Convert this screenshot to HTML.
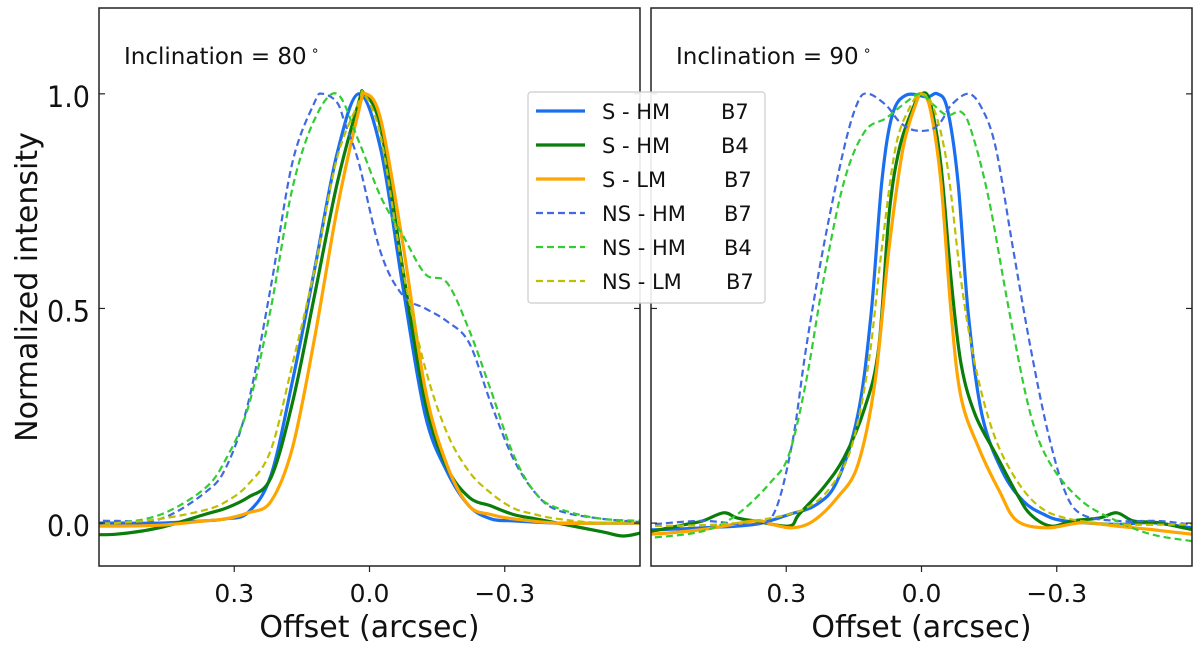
<!DOCTYPE html>
<html><head><meta charset="utf-8">
<style>
html,body{margin:0;padding:0;background:#fff;}
svg{display:block;font-family:"DejaVu Sans","Liberation Sans",sans-serif;}
</style></head>
<body>
<svg id="chart" width="1200" height="655" viewBox="0 0 1200 655"></svg>
<script>
// ---- data: left panel (inclination 80) ----
const L_S_HM_B7_x = [0.64,0.562,0.463,0.366,0.318,0.269,0.219,0.171,0.122,0.072,0.024,-0.025,-0.074,-0.124,-0.172,-0.221,-0.269,-0.319,-0.417,-0.515,-0.64];
const L_S_HM_B7_y = [0,0,0,0.005,0.01,0.025,0.11,0.33,0.59,0.86,1.0,0.87,0.55,0.25,0.12,0.04,0.01,0.005,0,0,0];
const L_S_HM_B4_x = [0.64,0.562,0.463,0.366,0.318,0.269,0.219,0.171,0.122,0.072,0.024,0.012,-0.025,-0.074,-0.124,-0.172,-0.221,-0.269,-0.319,-0.368,-0.417,-0.515,-0.563,-0.612,-0.64];
const L_S_HM_B4_y = [-0.026,-0.026,-0.01,0.02,0.035,0.06,0.105,0.28,0.53,0.79,0.98,1.0,0.92,0.59,0.28,0.13,0.06,0.04,0.02,0.01,0,-0.02,-0.03,-0.02,-0.01];
const L_S_LM_B7_x = [0.64,0.562,0.463,0.366,0.318,0.269,0.219,0.171,0.122,0.072,0.024,0.009,-0.025,-0.074,-0.124,-0.172,-0.221,-0.269,-0.319,-0.417,-0.515,-0.64];
const L_S_LM_B7_y = [-0.007,-0.007,-0.005,0.005,0.01,0.024,0.05,0.175,0.43,0.73,0.96,1.0,0.94,0.65,0.31,0.135,0.04,0.02,0.01,0,0,0];
const L_NS_HM_B7_x = [0.64,0.562,0.463,0.366,0.318,0.269,0.219,0.171,0.122,0.104,0.072,0.054,0.024,-0.025,-0.074,-0.124,-0.172,-0.221,-0.269,-0.319,-0.368,-0.417,-0.515,-0.64];
const L_NS_HM_B7_y = [0.008,0.005,0.01,0.07,0.13,0.28,0.55,0.84,0.98,1.0,0.98,0.93,0.84,0.63,0.53,0.5,0.47,0.42,0.28,0.15,0.07,0.03,0.01,0];
const L_NS_HM_B4_x = [0.64,0.562,0.463,0.366,0.318,0.269,0.219,0.171,0.122,0.072,0.024,-0.025,-0.074,-0.124,-0.172,-0.221,-0.269,-0.319,-0.368,-0.417,-0.515,-0.64];
const L_NS_HM_B4_y = [0,0,0.02,0.08,0.15,0.27,0.5,0.78,0.94,1.0,0.89,0.76,0.67,0.58,0.56,0.45,0.31,0.16,0.07,0.035,0.01,0.005];
const L_NS_LM_B7_x = [0.64,0.562,0.463,0.366,0.318,0.269,0.219,0.171,0.122,0.072,0.024,0.012,-0.025,-0.074,-0.124,-0.172,-0.221,-0.269,-0.319,-0.368,-0.417,-0.515,-0.64];
const L_NS_LM_B7_y = [0,0,0.01,0.03,0.05,0.09,0.17,0.37,0.59,0.85,0.98,1.0,0.9,0.59,0.36,0.21,0.12,0.07,0.035,0.02,0.01,0,0];
// ---- data: right panel (inclination 90) ----
const R_S_HM_B7_x = [0.64,0.6,0.485,0.370,0.294,0.233,0.187,0.141,0.112,0.088,0.065,0.034,-0.013,-0.035,-0.057,-0.081,-0.104,-0.134,-0.179,-0.226,-0.272,-0.318,-0.433,-0.509,-0.6,-0.64];
const R_S_HM_B7_y = [-0.016,-0.016,-0.011,-0.003,0.02,0.043,0.098,0.253,0.485,0.795,0.95,0.997,0.993,1.0,0.966,0.795,0.485,0.253,0.121,0.051,0.02,0.005,-0.003,0.001,-0.011,-0.012];
const R_S_HM_B4_x = [0.64,0.6,0.523,0.485,0.439,0.409,0.370,0.294,0.272,0.218,0.172,0.126,0.095,0.072,0.049,0.019,0.0,-0.019,-0.043,-0.066,-0.088,-0.119,-0.165,-0.212,-0.242,-0.287,-0.334,-0.395,-0.433,-0.470,-0.524,-0.6,-0.64];
const R_S_HM_B4_y = [-0.019,-0.019,-0.003,0.005,0.024,0.012,0.005,-0.007,0.02,0.082,0.152,0.268,0.408,0.718,0.873,0.966,1.0,0.981,0.834,0.563,0.369,0.253,0.16,0.067,0.02,-0.007,0.005,0.012,0.024,0.005,0.001,-0.015,-0.02];
const R_S_LM_B7_x = [0.64,0.6,0.485,0.370,0.332,0.286,0.240,0.187,0.141,0.103,0.072,0.041,0.011,0.0,-0.019,-0.043,-0.066,-0.088,-0.127,-0.173,-0.212,-0.28,-0.356,-0.433,-0.509,-0.6,-0.64];
const R_S_LM_B7_y = [-0.026,-0.026,-0.015,0.005,-0.003,-0.011,0.005,0.059,0.136,0.33,0.64,0.873,0.981,1.0,0.966,0.795,0.485,0.291,0.175,0.074,0.005,-0.011,0.001,-0.007,-0.015,-0.026,-0.03];
const R_NS_HM_B7_x = [0.64,0.6,0.485,0.370,0.325,0.286,0.256,0.218,0.172,0.141,0.118,0.079,0.049,0.019,-0.019,-0.043,-0.066,-0.104,-0.134,-0.165,-0.203,-0.242,-0.28,-0.318,-0.356,-0.433,-0.524,-0.6,-0.64];
const R_NS_HM_B7_y = [-0.003,-0.003,0.005,-0.003,0.028,0.191,0.408,0.64,0.873,0.981,1.0,0.974,0.935,0.916,0.916,0.935,0.974,1.0,0.966,0.873,0.64,0.408,0.214,0.074,0.02,0.005,0.005,-0.003,-0.003];
const R_NS_HM_B4_x = [0.64,0.6,0.485,0.409,0.332,0.294,0.256,0.218,0.172,0.126,0.079,0.034,0.003,-0.027,-0.057,-0.088,-0.111,-0.149,-0.196,-0.242,-0.287,-0.356,-0.433,-0.509,-0.6,-0.64];
const R_NS_HM_B4_y = [-0.034,-0.034,-0.019,0.02,0.098,0.16,0.33,0.563,0.795,0.912,0.943,0.981,1.0,0.974,0.95,0.958,0.912,0.756,0.485,0.253,0.136,0.051,0.005,-0.026,-0.042,-0.045];
const R_NS_LM_B7_x = [0.64,0.6,0.447,0.332,0.256,0.203,0.156,0.118,0.088,0.058,0.027,0.0,-0.027,-0.057,-0.088,-0.119,-0.158,-0.203,-0.256,-0.318,-0.433,-0.6,-0.64];
const R_NS_LM_B7_y = [-0.007,-0.007,-0.003,0.012,0.035,0.082,0.175,0.369,0.64,0.873,0.966,1.0,0.966,0.834,0.563,0.369,0.214,0.113,0.043,0.012,-0.003,-0.003,-0.003];
const xTickValues = [0.3, 0.0, -0.3];
const xTickLabels = ["0.3", "0.0", "\u22120.3"];
const yTickValues = [0.0, 0.5, 1.0];
const yTickLabels = ["0.0", "0.5", "1.0"];
const legendLabels = ["S - HM", "S - HM", "S - LM", "NS - HM", "NS - HM", "NS - LM"];
const legendBands = ["B7", "B4", "B7", "B7", "B4", "B7"];

const NS = "http://www.w3.org/2000/svg";
const svg = document.getElementById("chart");
const XMIN = 0.6, XMAX = -0.6, YMIN = -0.1, YMAX = 1.2;
const TOP = 8, BOT = 566;
const panels = [
  {left: 99, right: 640, title: "Inclination = 80", name: "left-panel", series: [
    [L_S_HM_B7_x, L_S_HM_B7_y], [L_S_HM_B4_x, L_S_HM_B4_y], [L_S_LM_B7_x, L_S_LM_B7_y],
    [L_NS_HM_B7_x, L_NS_HM_B7_y], [L_NS_HM_B4_x, L_NS_HM_B4_y], [L_NS_LM_B7_x, L_NS_LM_B7_y]]},
  {left: 651, right: 1192, title: "Inclination = 90", name: "right-panel", series: [
    [R_S_HM_B7_x, R_S_HM_B7_y], [R_S_HM_B4_x, R_S_HM_B4_y], [R_S_LM_B7_x, R_S_LM_B7_y],
    [R_NS_HM_B7_x, R_NS_HM_B7_y], [R_NS_HM_B4_x, R_NS_HM_B4_y], [R_NS_LM_B7_x, R_NS_LM_B7_y]]}
];
const styles = [
  {c: "#1a6ff0", w: 3.2, d: null, n: "s-hm-b7"},
  {c: "#0b7d0b", w: 3.2, d: null, n: "s-hm-b4"},
  {c: "#ffa500", w: 3.2, d: null, n: "s-lm-b7"},
  {c: "#4169e1", w: 2.2, d: "7,4", n: "ns-hm-b7"},
  {c: "#32cd32", w: 2.2, d: "7,4", n: "ns-hm-b4"},
  {c: "#bfbf00", w: 2.2, d: "7,4", n: "ns-lm-b7"}
];
function el(tag, attrs, parent) {
  const e = document.createElementNS(NS, tag);
  for (const k in attrs) e.setAttribute(k, attrs[k]);
  (parent || svg).appendChild(e);
  return e;
}
function yScale(v) { return BOT - (v - YMIN) / (YMAX - YMIN) * (BOT - TOP); }
function smoothPath(pts) {
  let d = "M" + pts[0][0].toFixed(1) + "," + pts[0][1].toFixed(1);
  for (let i = 0; i < pts.length - 1; i++) {
    const p0 = pts[Math.max(0, i - 1)], p1 = pts[i], p2 = pts[i + 1], p3 = pts[Math.min(pts.length - 1, i + 2)];
    const c1x = p1[0] + (p2[0] - p0[0]) / 6, c1y = p1[1] + (p2[1] - p0[1]) / 6;
    const c2x = p2[0] - (p3[0] - p1[0]) / 6, c2y = p2[1] - (p3[1] - p1[1]) / 6;
    d += " C" + c1x.toFixed(1) + "," + c1y.toFixed(1) + " " + c2x.toFixed(1) + "," + c2y.toFixed(1) + " " + p2[0].toFixed(1) + "," + p2[1].toFixed(1);
  }
  return d;
}
const defs = el("defs", {});
panels.forEach((p, pi) => {
  const xScale = v => p.left + (v - XMIN) / (XMAX - XMIN) * (p.right - p.left);
  const cp = el("clipPath", {id: "clip" + pi}, defs);
  el("rect", {x: p.left, y: TOP, width: p.right - p.left, height: BOT - TOP}, cp);
  const g = el("g", {"clip-path": "url(#clip" + pi + ")"});
  
  
  p.series.forEach((s, si) => {
    const st = styles[si];
    const pts = s[0].map((x, i) => [xScale(x), yScale(s[1][i])]);
    const path = el("path", {d: smoothPath(pts), fill: "none", stroke: st.c, "stroke-width": st.w, "stroke-linejoin": "round"}, g);
    if (st.d) path.setAttribute("stroke-dasharray", st.d);
    
    
  });
  const frame = el("rect", {x: p.left, y: TOP, width: p.right - p.left, height: BOT - TOP, fill: "none", stroke: "#222", "stroke-width": 1.5});
  
  
  xTickValues.forEach((v, i) => {
    const x = xScale(v);
    const t = el("line", {x1: x, x2: x, y1: BOT, y2: BOT + 6, stroke: "#222", "stroke-width": 1.2});
    
    
    const lb = el("text", {x: x, y: 602, "text-anchor": "middle", "font-size": 25, fill: "#111"});
    lb.textContent = xTickLabels[i];
    
    
  });
  yTickValues.forEach((v, i) => {
    const y = yScale(v);
    const t1 = el("line", {x1: p.left, x2: p.left + 6, y1: y, y2: y, stroke: "#222", "stroke-width": 1.2});
    
    
    const t2 = el("line", {x1: p.right - 6, x2: p.right, y1: y, y2: y, stroke: "#222", "stroke-width": 1.2});
    
    
    if (pi === 0) {
      const lb = el("text", {x: 47, y: y + 13, "font-size": 29, fill: "#111", textLength: 43, lengthAdjust: "spacingAndGlyphs"});
      lb.textContent = yTickLabels[i];
      
      
    }
  });
  const title = el("text", {x: p.left + 25, y: 64, "font-size": 23, fill: "#111"});
  title.textContent = p.title;
  const sup = el("tspan", {dx: 4, dy: -9, "font-size": 14}, title);
  sup.textContent = "\u2218";
  
  
  const xl = el("text", {x: (p.left + p.right) / 2, y: 637, "text-anchor": "middle", "font-size": 30, fill: "#111"});
  xl.textContent = "Offset (arcsec)";
  
  
});
const yl = el("text", {x: 0, y: 0, "text-anchor": "middle", "font-size": 30, fill: "#111", transform: "translate(37,287) rotate(-90)"});
yl.textContent = "Normalized intensity";


// legend
const lg = el("g", {});


el("rect", {x: 528, y: 92, width: 237, height: 211, rx: 3, fill: "#fff", "fill-opacity": 0.9, stroke: "#ccc", "stroke-width": 1.2}, lg);
legendLabels.forEach((lab, i) => {
  const st = styles[i];
  const y = 111 + i * 34;
  const ln = el("line", {x1: 536, x2: 585, y1: y, y2: y, stroke: st.c, "stroke-width": st.w}, lg);
  if (st.d) ln.setAttribute("stroke-dasharray", st.d);
  
  
  const t = el("text", {x: 602, y: y + 8, "font-size": 21, fill: "#111"}, lg);
  t.textContent = lab;
  
  
  const b = el("text", {x: i < 2 ? 721 : (i === 5 ? 726 : 724), y: y + 8, "font-size": 21, fill: "#111"}, lg);
  b.textContent = legendBands[i];
  
  
});
</script>
</body></html>
